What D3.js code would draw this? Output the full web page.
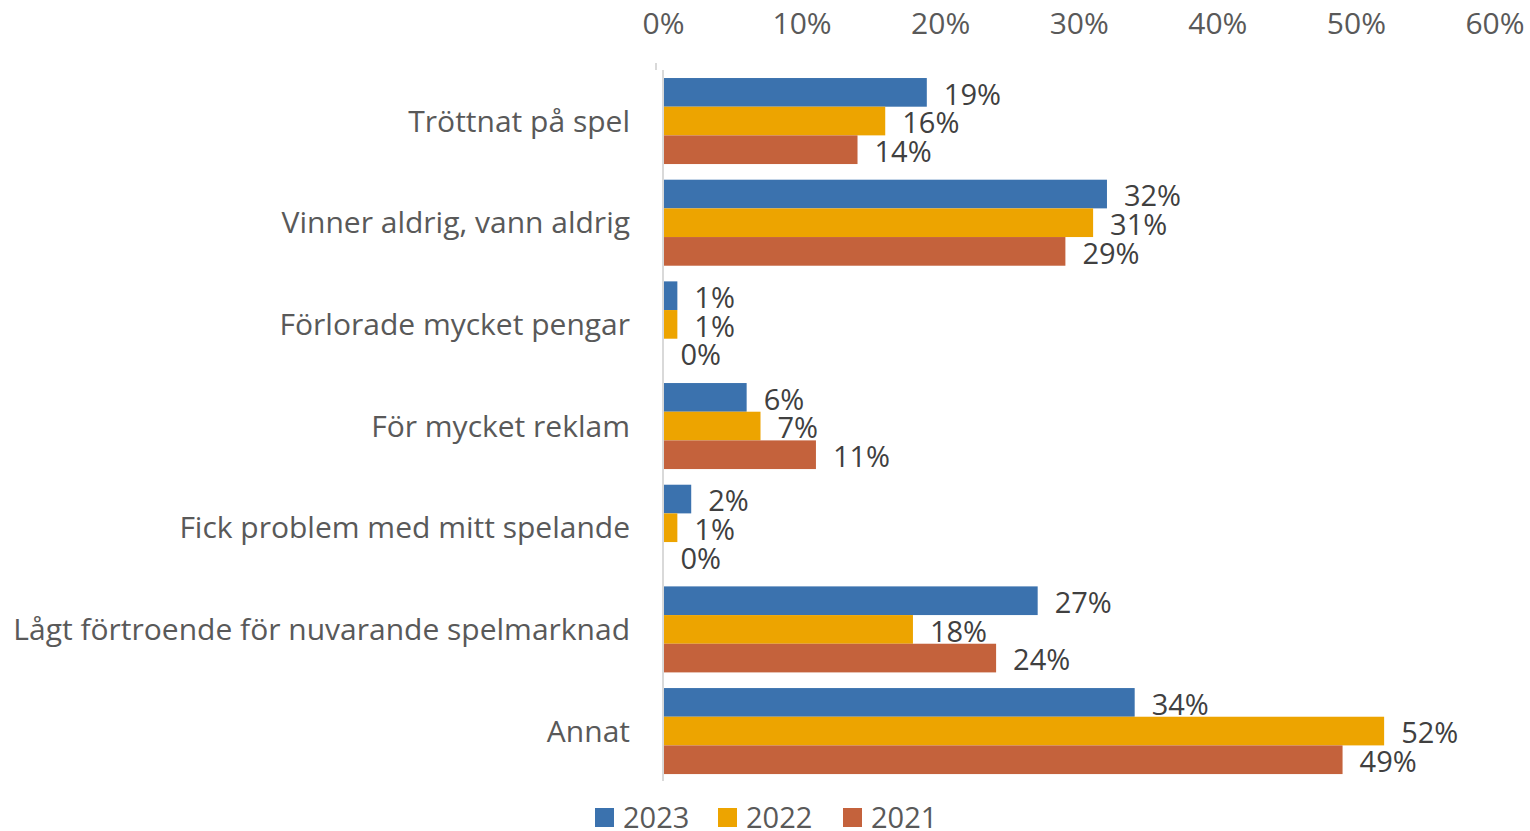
<!DOCTYPE html>
<html>
<head>
<meta charset="utf-8">
<script src="https://cdn.jsdelivr.net/npm/d3@7"></script>
<style>
  body { margin: 0; background: #fff; }
  text { font-family: "Open Sans", "Noto Sans", sans-serif; }
</style>
</head>
<body>
<div id="chart"></div>
<script>
// data
var categories = ["Tröttnat på spel", "Vinner aldrig, vann aldrig", "Förlorade mycket pengar",
  "För mycket reklam", "Fick problem med mitt spelande",
  "Lågt förtroende för nuvarande spelmarknad", "Annat"];
var years = ["2023", "2022", "2021"];
var values2023 = [19, 32, 1, 6, 2, 27, 34];
var values2022 = [16, 31, 1, 7, 1, 18, 52];
var values2021 = [14, 29, 0, 11, 0, 24, 49];
var xTicks = [0, 10, 20, 30, 40, 50, 60];
var colors = ["#3b72ae", "#eda400", "#c4623c"];

var series = [values2023, values2022, values2021];
var width = 1530, height = 831;

var svg = d3.select("#chart").append("svg")
  .attr("width", width).attr("height", height);

var x = d3.scaleLinear().domain([0, 60]).range([663.5, 1495]);

var y = d3.scaleBand()
  .domain(categories)
  .range([70.2, 781.9])
  .paddingInner(0.154)
  .paddingOuter(0.077);

var ySub = d3.scaleBand().domain(years).range([0, y.bandwidth()]);

// top axis labels
svg.selectAll(".tick-label")
  .data(xTicks)
  .enter().append("text")
  .attr("class", "tick-label")
  .attr("x", function(d){ return x(d); })
  .attr("y", 34)
  .attr("text-anchor", "middle")
  .attr("font-size", "30px")
  .attr("fill", "#595959")
  .text(function(d){ return d + "%"; });

// bars
var groups = svg.selectAll(".grp")
  .data(categories)
  .enter().append("g")
  .attr("class", "grp")
  .attr("transform", function(d){ return "translate(0," + y(d) + ")"; });

years.forEach(function(yr, si) {
  groups.append("rect")
    .attr("x", x(0))
    .attr("y", ySub(yr))
    .attr("width", function(d, i){ return x(series[si][i]) - x(0); })
    .attr("height", ySub.bandwidth())
    .attr("fill", colors[si]);

  groups.append("text")
    .attr("x", function(d, i){ return x(series[si][i]) + 17; })
    .attr("y", ySub(yr) + ySub.bandwidth() / 2 + 2)
    .attr("dy", "0.35em")
    .attr("font-size", "29px")
    .attr("fill", "#404040")
    .text(function(d, i){ return series[si][i] + "%"; });
});

// category labels
groups.append("text")
  .attr("x", 630)
  .attr("y", y.bandwidth() / 2)
  .attr("dy", "0.35em")
  .attr("text-anchor", "end")
  .attr("font-size", "30px")
  .attr("fill", "#595959")
  .text(function(d){ return d; });

// vertical axis line
svg.append("line")
  .attr("x1", 663).attr("x2", 663)
  .attr("y1", 70).attr("y2", 781)
  .attr("stroke", "#d9d9d9").attr("stroke-width", 2);
svg.append("rect")
  .attr("x", 655).attr("y", 63).attr("width", 2).attr("height", 7)
  .attr("fill", "#d9d9d9");

// legend
var legend = svg.selectAll(".leg")
  .data(years)
  .enter().append("g")
  .attr("class", "leg")
  .attr("transform", function(d, i){ return "translate(" + [595, 718, 843][i] + ",808)"; });

legend.append("rect")
  .attr("width", 19).attr("height", 19)
  .attr("fill", function(d, i){ return colors[i]; });

legend.append("text")
  .attr("x", 28)
  .attr("y", 9.5)
  .attr("dy", "0.35em")
  .attr("font-size", "29px")
  .attr("fill", "#595959")
  .text(function(d){ return d; });
</script>
</body>
</html>
